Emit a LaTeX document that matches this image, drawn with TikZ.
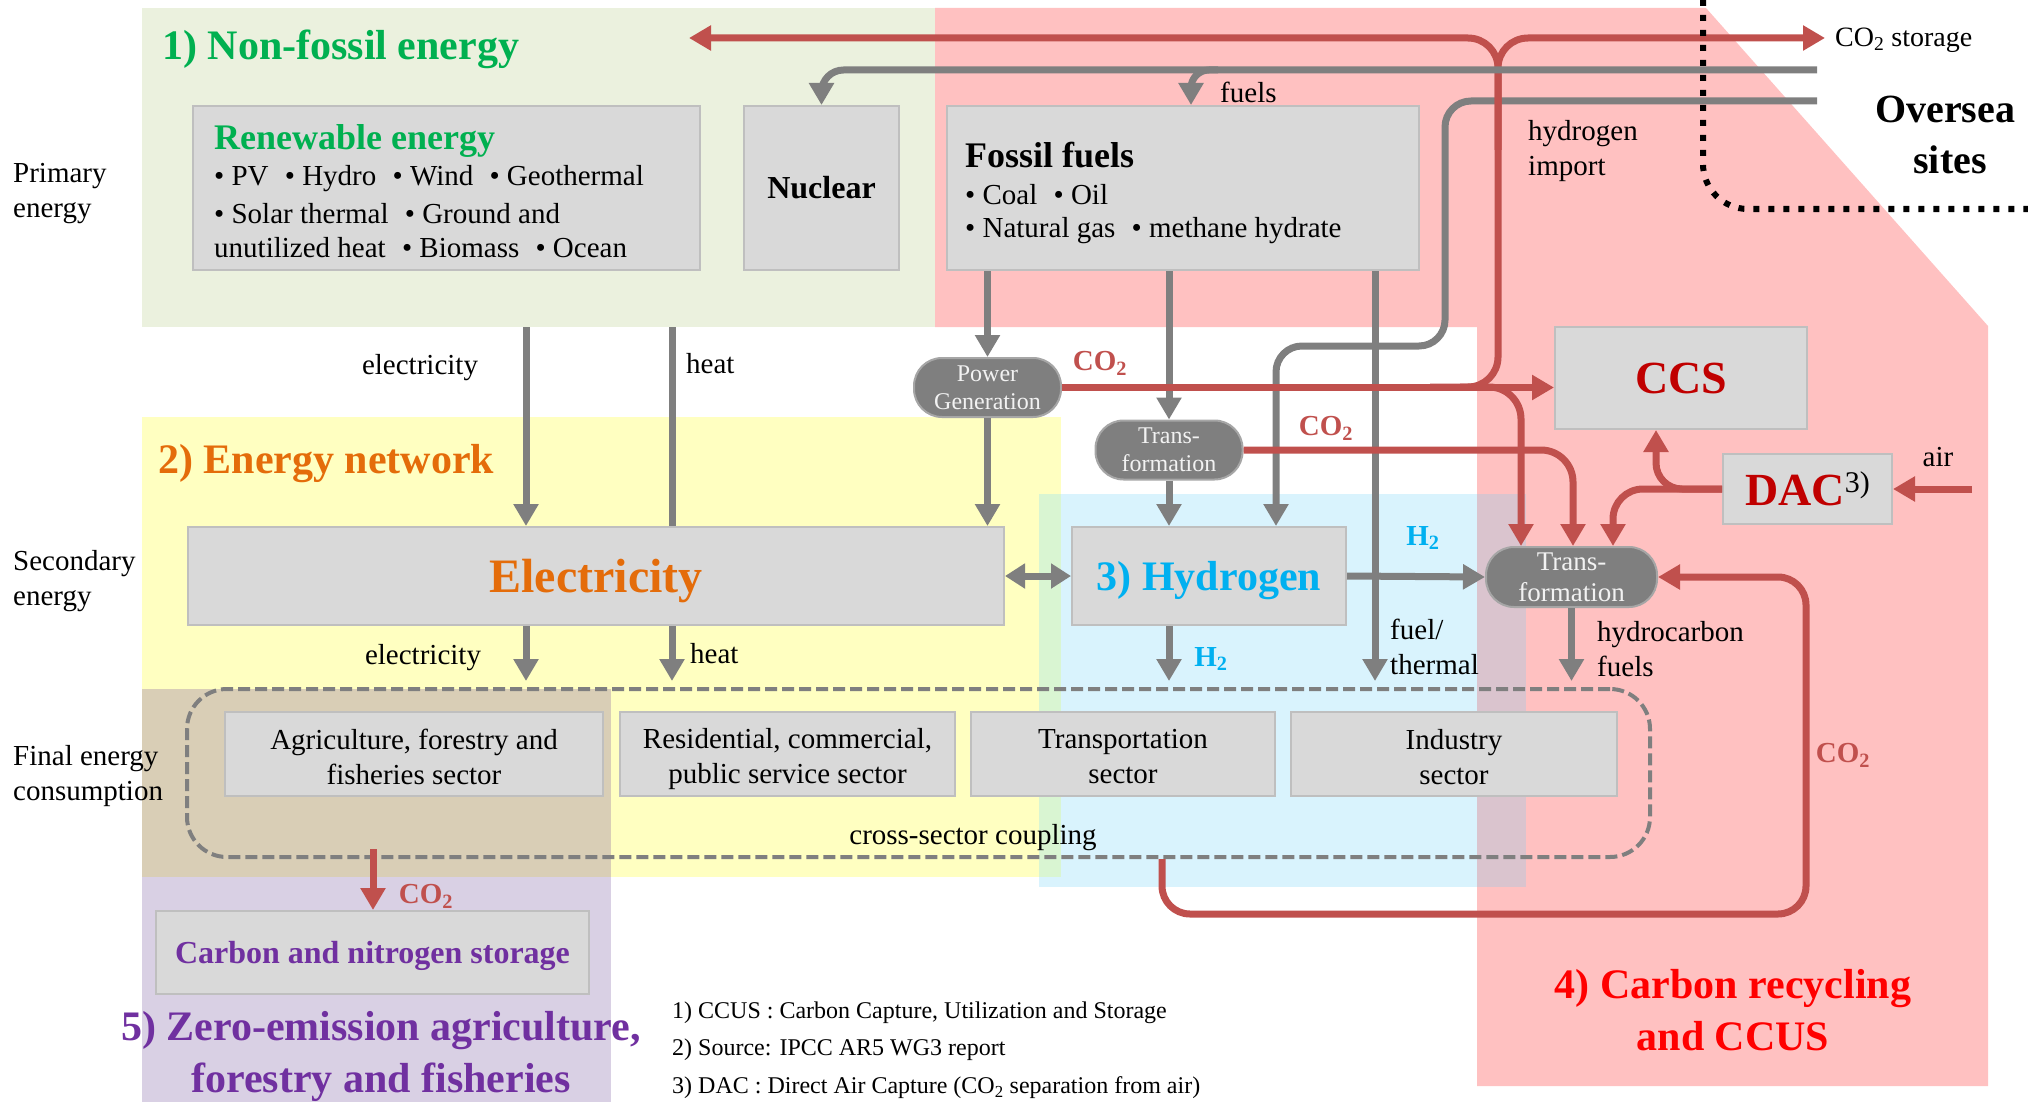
\documentclass[tikz,border=0pt]{standalone}
\usepackage{fontspec}
\setmainfont{Liberation Serif}
\usetikzlibrary{arrows.meta}
\definecolor{bggreen}{HTML}{EBF1DE}
\definecolor{bgpink}{HTML}{FFC1C1}
\definecolor{bgyellow}{HTML}{FFFFC1}
\definecolor{bgblue}{HTML}{D9F3FD}
\definecolor{bgpurple}{HTML}{D9D0E4}
\definecolor{bgtan}{HTML}{D9CEB6}
\definecolor{bgyb}{HTML}{D9F5D2}
\definecolor{bgbp}{HTML}{DAC4CE}
\definecolor{boxfill}{HTML}{D9D9D9}
\definecolor{boxline}{HTML}{BFBFBF}
\definecolor{pillfill}{HTML}{7F7F7F}
\definecolor{pillline}{HTML}{A6A6A6}
\definecolor{pilltext}{HTML}{F2F2F2}
\definecolor{arrgray}{HTML}{7F7F7F}
\definecolor{arrred}{HTML}{C0504D}
\definecolor{tgreen}{HTML}{00B050}
\definecolor{torange}{HTML}{E46C0A}
\definecolor{tblue}{HTML}{00B0F0}
\definecolor{tdred}{HTML}{C00000}
\definecolor{tred}{HTML}{FF0000}
\definecolor{tpurple}{HTML}{7030A0}
\newcommand{\fsz}[2]{\fontsize{#1}{#2}\selectfont}
\newcommand{\bsp}{\hspace{9pt} }
\tikzset{
  box/.style={draw=boxline, fill=boxfill, line width=2pt, inner sep=0pt, align=center},
  pill/.style={draw=pillline, fill=pillfill, line width=2pt, rounded corners=28pt, inner sep=0pt, text=pilltext, align=center, font=\fsz{24pt}{28pt}},
  garrow/.style={draw=arrgray, line width=7pt, -{Triangle[width=24pt,length=22pt]}},
  gline/.style={draw=arrgray, line width=7pt},
  gdouble/.style={draw=arrgray, line width=7pt, {Triangle[width=24pt,length=20pt]}-{Triangle[width=24pt,length=20pt]}},
  rarrow/.style={draw=arrred, line width=7pt, -{Triangle[width=24pt,length=22pt]}},
  lbl/.style={inner sep=0pt, align=left, font=\fsz{29pt}{35pt}},
  secttext/.style={inner sep=0pt, align=center, font=\fsz{29pt}{35pt}},
  coo/.style={inner sep=0pt, text=arrred, font=\bfseries\fsz{29pt}{35pt}},
  htwo/.style={inner sep=0pt, text=tblue, font=\bfseries\fsz{29pt}{35pt}},
  big/.style={inner sep=0pt, font=\bfseries\fsz{42pt}{52pt}, align=center},
  foot/.style={inner sep=0pt, anchor=west, font=\fsz{24pt}{28pt}}
}
\begin{document}
\begin{tikzpicture}[x=1pt,y=-1pt]
\useasboundingbox (0,0) rectangle (2028,1102);
% background regions
\fill[bggreen] (142,8) rectangle (935,327);
\fill[bgpink] (935,8) -- (1706,8) -- (1988,326) -- (1988,1086) -- (1477,1086) -- (1477,327) -- (935,327) -- cycle;
\fill[bgyellow] (142,417) rectangle (1061,877);
\fill[bgblue] (1039,494) rectangle (1526,887);
\fill[bgpurple] (142,689) rectangle (611,1102);
\fill[bgtan] (142,689) rectangle (611,877);
\fill[bgyb] (1039,494) rectangle (1061,877);
\fill[bgbp] (1477,494) rectangle (1526,887);

% boxes
\node[box, minimum width=507pt, minimum height=164pt] (ren) at (446.5,188) {};
\node[box, minimum width=155pt, minimum height=164pt, font=\bfseries\fsz{32pt}{38pt}] (nuc) at (821.5,188) {Nuclear};
\node[box, minimum width=472pt, minimum height=164pt] (fos) at (1183,188) {};
\node[pill, minimum width=147pt, minimum height=59pt] (pg) at (987.5,387.5) {Power\\Generation};
\node[pill, minimum width=147pt, minimum height=59pt] (tr1) at (1169,450) {Trans-\\formation};
\node[pill, minimum width=171pt, minimum height=60pt, font=\fsz{27pt}{31pt}] (tr2) at (1571.5,577) {Trans-\\formation};
\node[box, minimum width=252pt, minimum height=102pt, text=tdred, font=\bfseries\fsz{46pt}{50pt}] (ccs) at (1681,378) {CCS};
\node[box, minimum width=169pt, minimum height=70pt] (dac) at (1807.5,489) {{\color{tdred}\bfseries\fsz{46pt}{50pt}DAC}{\fsz{30pt}{30pt}\raisebox{13pt}{3)}}};
\node[box, minimum width=816pt, minimum height=98pt, text=torange, text depth=0pt, font=\bfseries\fsz{48pt}{54pt}] (elec) at (596,576) {Electricity};
\node[box, minimum width=274pt, minimum height=98pt, text=tblue, text depth=0pt, font=\bfseries\fsz{42pt}{48pt}] (hyd) at (1209,576) {3) Hydrogen};
\node[draw=arrgray, line width=4pt, dash pattern=on 12pt off 5pt, rounded corners=40pt, minimum width=1463pt, minimum height=168pt, inner sep=0pt] (cp) at (918.5,773) {};
\node[box, minimum width=378pt, minimum height=84pt] (agr) at (414,754) {};
\node[box, minimum width=335pt, minimum height=84pt] (res) at (787.5,754) {};
\node[box, minimum width=304pt, minimum height=84pt] (tra) at (1123,754) {};
\node[box, minimum width=326pt, minimum height=84pt] (ind) at (1454,754) {};
\node[secttext] (agrt) at ([yshift=-3pt]agr.center) {Agriculture, forestry and\\fisheries sector};
\node[secttext] (rest) at ([yshift=-5pt]res.center) {Residential, commercial,\\public service sector};
\node[secttext] (trat) at ([yshift=-3pt]tra.center) {Transportation\\sector};
\node[secttext] (indt) at ([yshift=-3pt]ind.center) {Industry\\sector};
\node[box, minimum width=433pt, minimum height=83pt, text=tpurple, text depth=0pt, font=\bfseries\fsz{32pt}{38pt}] (cns) at (372.5,952.5) {Carbon and nitrogen storage};

% box texts
\node[anchor=west, inner sep=0pt, text=tgreen, font=\bfseries\fsz{36pt}{42pt}] (rent) at (214,141) {Renewable energy};
\node[lbl, anchor=west] (ren1) at (214,179) {\textbullet\ PV\bsp\textbullet\ Hydro\bsp\textbullet\ Wind\bsp\textbullet\ Geothermal};
\node[lbl, anchor=west] (ren2) at (214,214) {\textbullet\ Solar thermal\bsp\textbullet\ Ground and};
\node[lbl, anchor=west] (ren3) at (214,248) {unutilized heat\bsp\textbullet\ Biomass\bsp\textbullet\ Ocean};
\node[anchor=west, inner sep=0pt, font=\bfseries\fsz{36pt}{42pt}] (fost) at (965,155) {Fossil fuels};
\node[lbl, anchor=west] (fos1) at (965,195) {\textbullet\ Coal\bsp\textbullet\ Oil};
\node[lbl, anchor=west] (fos2) at (965,231) {\textbullet\ Natural gas\bsp\textbullet\ methane hydrate};

% gray connectors
\coordinate (e1) at (526,327);
\coordinate (h1) at (672,327);
\coordinate (ft) at (1375,300);
\draw[garrow] (e1) -- (e1 |- elec.north);
\draw[gline] (h1) -- (h1 |- elec.north);
\draw[garrow, shorten >=6pt] (e1 |- elec.south) -- (e1 |- cp.north);
\draw[garrow, shorten >=6pt] (h1 |- elec.south) -- (h1 |- cp.north);
\draw[garrow] (pg.north |- fos.south) -- (pg.north);
\draw[garrow] (pg.south) -- (pg.south |- elec.north);
\draw[garrow] (tr1.north |- fos.south) -- (tr1.north);
\draw[garrow] (tr1.south) -- (tr1.south |- hyd.north);
\draw[garrow, shorten >=6pt] (tr1.south |- hyd.south) -- (tr1.south |- cp.north);
\draw[garrow, shorten >=6pt] (ft |- fos.south) -- (ft |- cp.north);
\draw[garrow, shorten >=6pt] (tr2.south) -- (tr2.south |- cp.north);
\draw[gdouble] (elec.east) -- (hyd.west);
\draw[garrow] (hyd.east) -- (tr2.west);
% hydrogen import line
\coordinate (gB) at (1817,101);
\coordinate (gB1) at (1445,101);
\coordinate (gB2) at (1445,346);
\coordinate (gB3) at (1276,346);
\draw[garrow, rounded corners=26pt] (gB) -- (gB1) -- (gB2) -- (gB3) -- (gB3 |- hyd.north);

% red connectors
\coordinate (rs) at (1430,387);
\coordinate (rj) at (1498,387);
\coordinate (rt) at (1498,38);
\coordinate (rm) at (1498,150);
\coordinate (rl) at (689,38);
\coordinate (rr) at (1825,38);
\coordinate (rs2) at (1460,387);
\coordinate (rd) at (1521,387);
\coordinate (rc) at (1573,450);
\coordinate (da) at (1656,489);
\coordinate (db) at (1613,489);
\coordinate (air) at (1972,489);
\coordinate (l1) at (1162,914);
\coordinate (l2) at (1806,914);
\coordinate (l3) at (1806,577);
\coordinate (ag) at (373,849);
\draw[rarrow] (pg.east) -- (pg.east -| ccs.west);
\draw[rarrow, rounded corners=30pt] (rs) -- (rj) -- (rt) -- (rl);
\draw[rarrow, rounded corners=30pt] (rm) -- (rt) -- (rr);
\draw[rarrow, rounded corners=32pt] (rs2) -- (rd) -- (rd |- tr2.north);
\draw[rarrow, rounded corners=32pt] (tr1.east) -- (rc) -- (rc |- tr2.north);
\draw[rarrow, rounded corners=26pt] (dac.west) -- (da) -- (da |- ccs.south);
\draw[rarrow, rounded corners=30pt] (dac.west) -- (db) -- (db |- tr2.north);
\draw[rarrow] (air) -- (dac.east);
\draw[rarrow, rounded corners=28pt] (l1 |- cp.south) -- (l1) -- (l2) -- (l3) -- (tr2.east);
\draw[rarrow] (ag) -- (ag |- cns.north);

% fuel supply line (drawn over red vertical)
\coordinate (gA) at (1817,70);
\coordinate (fz) at (1191,70);
\coordinate (fz0) at (1218,70);
\draw[garrow, rounded corners=22pt] (gA) -- (nuc.north |- gA) -- (nuc.north);
\draw[garrow, rounded corners=18pt] (fz0) -- (fz) -- (fz |- fos.north);

% dotted border
\coordinate (dt1) at (1703,0);
\coordinate (dt2) at (1703,209);
\coordinate (dt3) at (2028,209);
\draw[line width=6pt, dash pattern=on 6pt off 9pt, rounded corners=45pt] (dt1) -- (dt2) -- (dt3);

% titles
\node[anchor=west, inner sep=0pt, text=tgreen, font=\bfseries\fsz{42pt}{50pt}] (t1) at (162,49) {1) Non-fossil energy};
\node[anchor=west, inner sep=0pt, text=torange, font=\bfseries\fsz{42pt}{50pt}] (t2) at (158,464) {2) Energy network};
\node[big, text=tpurple] (t5) at (381,1056) {5) Zero-emission agriculture,\\forestry and fisheries};
\node[big, text=tred] (t4) at (1733,1010) {4) Carbon recycling\\and CCUS};

% side labels
\node[lbl, anchor=west] (sl1) at (13,194) {Primary\\energy};
\node[lbl, anchor=west] (sl2) at (13,581) {Secondary\\energy};
\node[lbl, anchor=west] (sl3) at (13,776) {Final energy\\consumption};

% connector labels
\node[lbl] (le1) at (420,368) {electricity};
\node[lbl, anchor=west] (lh1) at (686,364) {heat};
\node[lbl] (le2) at (423,658) {electricity};
\node[lbl, anchor=west] (lh2) at (690,654) {heat};
\node[lbl, anchor=west] (lfu) at (1220,92) {fuels};
\node[lbl, anchor=west] (lhi) at (1528,151) {hydrogen\\import};
\node[lbl, anchor=west, font=\fsz{28pt}{34pt}] (lcs) at (1835,40) {CO\textsubscript{2} storage};
\node[anchor=west, inner sep=0pt, font=\bfseries\fsz{40pt}{48pt}] (lov) at (1875,109) {Oversea};
\node[inner sep=0pt, font=\bfseries\fsz{40pt}{48pt}] (lsi) at (1950,160) {sites};
\node[lbl] (lair) at (1938,457) {air};
\node[lbl, anchor=west] (lft) at (1390,647) {fuel/\\thermal};
\node[lbl, anchor=west] (lhc) at (1597,649) {hydrocarbon\\fuels};
\node[lbl] (lcc) at (973,838) {cross-sector coupling};
\node[htwo] (lh2a) at (1423,538) {H\textsubscript{2}};
\node[htwo] (lh2b) at (1211,659) {H\textsubscript{2}};
\node[coo] (lc1) at (1100,363) {CO\textsubscript{2}};
\node[coo] (lc2) at (1326,428) {CO\textsubscript{2}};
\node[coo] (lc3) at (1843,755) {CO\textsubscript{2}};
\node[coo] (lc4) at (426,896) {CO\textsubscript{2}};

% footnotes
\node[foot] (fn1) at (672,1013) {1) CCUS : Carbon Capture, Utilization and Storage};
\node[foot] (fn2) at (672,1050) {2) Source: IPCC AR5 WG3 report};
\node[foot] (fn3) at (672,1088) {3) DAC : Direct Air Capture (CO\textsubscript{2} separation from air)};
\end{tikzpicture}
\end{document}
